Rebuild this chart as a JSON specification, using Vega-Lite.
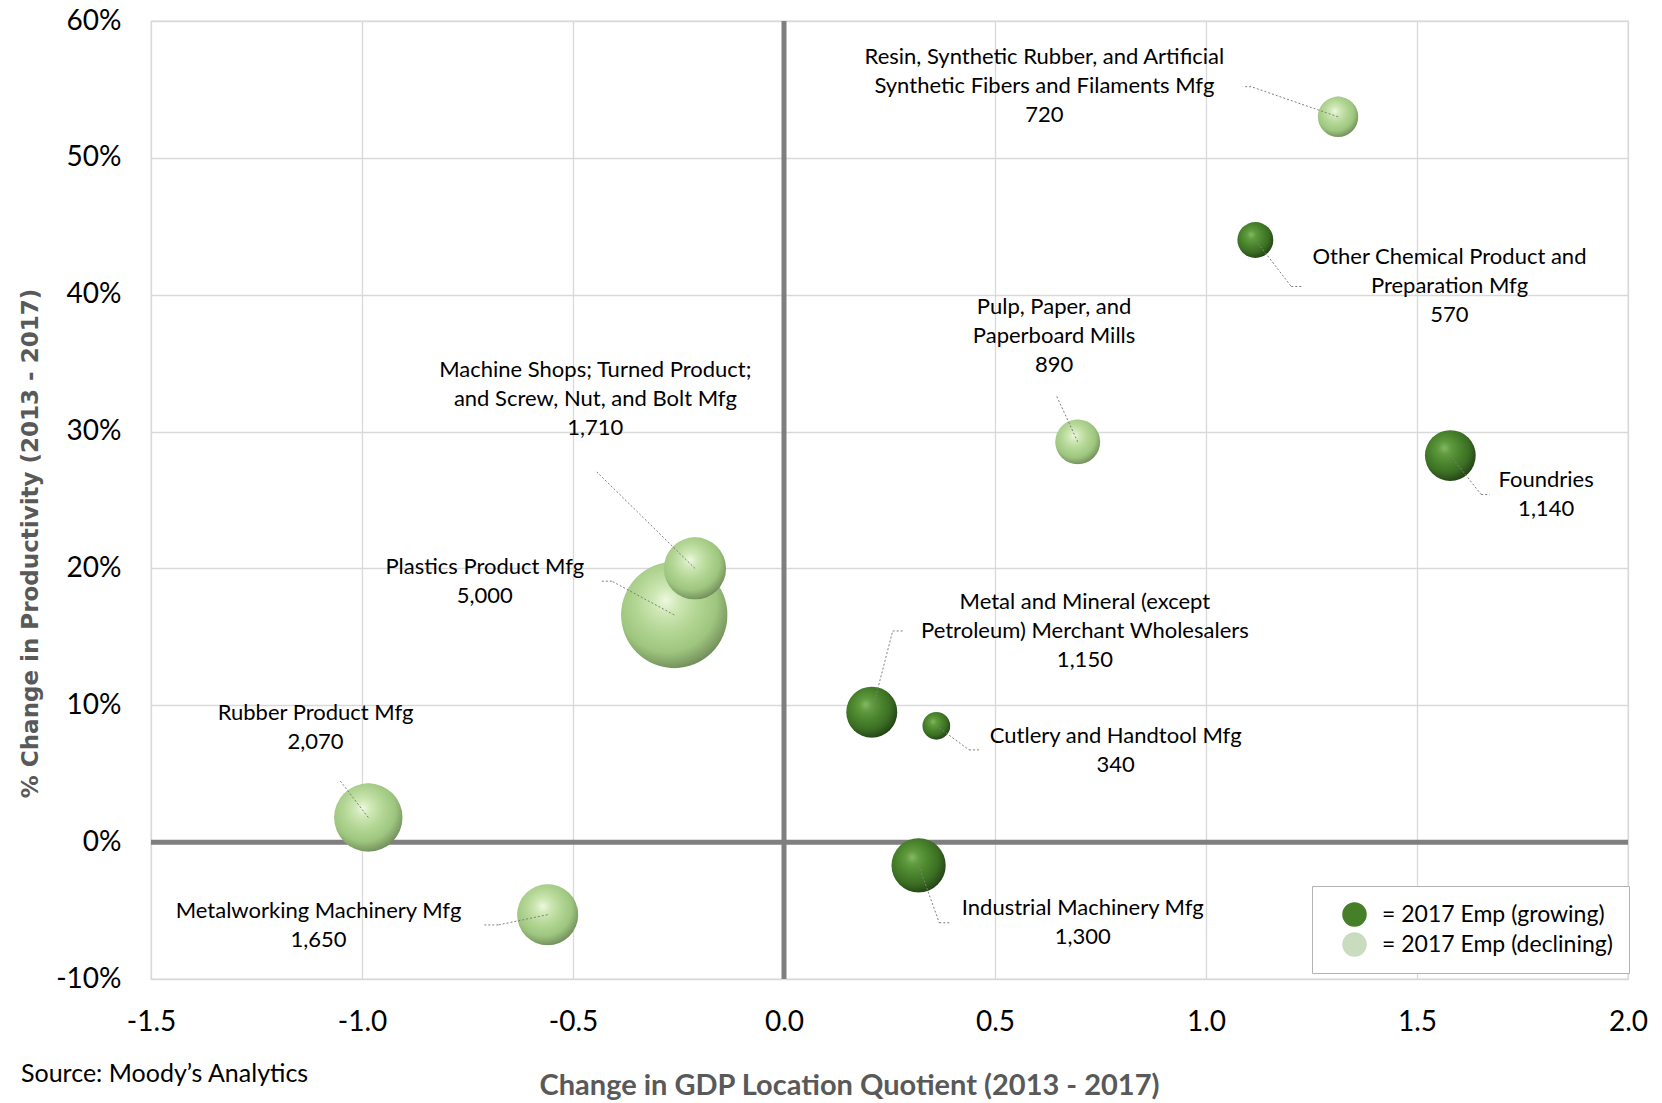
{
  "$schema": "https://vega.github.io/schema/vega-lite/v6.json",
  "width": 1477,
  "height": 958,
  "autosize": {"type": "none"},
  "padding": {"left": 151, "top": 21, "right": 34, "bottom": 124},
  "background": "#ffffff",
  "config": {
    "font": "Lato",
    "view": {"stroke": "#d9d9d9", "strokeWidth": 1.3},
    "axis": {
      "grid": true,
      "gridColor": "#d9d9d9",
      "gridWidth": 1.3,
      "domain": false,
      "ticks": false,
      "labelFlush": false,
      "labelFont": "Lato",
      "labelFontSize": 28,
      "labelColor": "#000000",
      "titleColor": "#595959"
    }
  },
  "title": {
    "text": "Source: Moody’s Analytics",
    "orient": "bottom",
    "anchor": "start",
    "frame": "group",
    "offset": -38,
    "dx": -130,
    "font": "Lato",
    "fontSize": 25,
    "fontWeight": "normal",
    "color": "#000000"
  },
  "datasets": {
    "industries": [
      {"name": "Resin, Synthetic Rubber, and Artificial\nSynthetic Fibers and Filaments Mfg", "x": 1.313, "y": 0.530, "emp": 720, "trend": "declining", "lx": 0.617, "ly": 0.581, "bx": 1.107, "by": 0.552, "ex": 1.087},
      {"name": "Other Chemical Product and\nPreparation Mfg", "x": 1.117, "y": 0.440, "emp": 570, "trend": "growing", "lx": 1.577, "ly": 0.435, "bx": 1.202, "by": 0.406, "ex": 1.227},
      {"name": "Pulp, Paper, and\nPaperboard Mills", "x": 0.696, "y": 0.2925, "emp": 890, "trend": "declining", "lx": 0.640, "ly": 0.398, "bx": 0.6445, "by": 0.327, "ex": 0.6445},
      {"name": "Foundries", "x": 1.579, "y": 0.2825, "emp": 1140, "trend": "growing", "lx": 1.806, "ly": 0.272, "bx": 1.652, "by": 0.254, "ex": 1.672},
      {"name": "Plastics Product Mfg", "x": -0.260, "y": 0.166, "emp": 5000, "trend": "declining", "lx": -0.709, "ly": 0.2085, "bx": -0.408, "by": 0.1907, "ex": -0.436},
      {"name": "Machine Shops; Turned Product;\nand Screw, Nut, and Bolt Mfg", "x": -0.211, "y": 0.200, "emp": 1710, "trend": "declining", "lx": -0.447, "ly": 0.352, "bx": -0.4435, "by": 0.2705, "ex": -0.4435},
      {"name": "Rubber Product Mfg", "x": -0.985, "y": 0.018, "emp": 2070, "trend": "declining", "lx": -1.110, "ly": 0.1015, "bx": -1.054, "by": 0.0457, "ex": -1.054},
      {"name": "Metalworking Machinery Mfg", "x": -0.560, "y": -0.053, "emp": 1650, "trend": "declining", "lx": -1.103, "ly": -0.0433, "bx": -0.677, "by": -0.0605, "ex": -0.710},
      {"name": "Metal and Mineral (except\nPetroleum) Merchant Wholesalers", "x": 0.208, "y": 0.095, "emp": 1150, "trend": "growing", "lx": 0.713, "ly": 0.183, "bx": 0.2575, "by": 0.1543, "ex": 0.2827},
      {"name": "Cutlery and Handtool Mfg", "x": 0.361, "y": 0.085, "emp": 340, "trend": "growing", "lx": 0.786, "ly": 0.0845, "bx": 0.4384, "by": 0.0674, "ex": 0.466},
      {"name": "Industrial Machinery Mfg", "x": 0.319, "y": -0.017, "emp": 1300, "trend": "growing", "lx": 0.708, "ly": -0.041, "bx": 0.368, "by": -0.0589, "ex": 0.396}
    ]
  },
  "data": {"name": "industries"},
  "layer": [
    {
      "data": {"values": [{}]},
      "mark": {"type": "rule", "color": "#7f7f7f", "strokeWidth": 5},
      "encoding": {
        "x": {"datum": 0, "type": "quantitative", "title": "Change in GDP Location Quotient (2013 - 2017)", "scale": {"domain": [-1.5, 2], "nice": false, "zero": false}}
      }
    },
    {
      "data": {"values": [{}]},
      "mark": {"type": "rule", "color": "#7f7f7f", "strokeWidth": 5},
      "encoding": {
        "y": {"datum": 0, "type": "quantitative", "title": "% Change in Productivity (2013 - 2017)", "scale": {"domain": [-0.1, 0.6], "nice": false, "zero": false}}
      }
    },
    {
      "mark": {"type": "circle", "opacity": 0},
      "encoding": {
        "x": {
          "field": "x",
          "type": "quantitative",
          "title": "Change in GDP Location Quotient (2013 - 2017)",
          "scale": {"domain": [-1.5, 2], "nice": false, "zero": false},
          "axis": {
            "values": [-1.5, -1, -0.5, 0, 0.5, 1, 1.5, 2],
            "labelExpr": "(datum.value < 0 ? '-' : '') + format(abs(datum.value), '.1f')",
            "labelPadding": 29,
            "titleFont": "Lato",
            "titleFontSize": 29,
            "titleFontWeight": "bold",
            "titleX": 698,
            "titleY": 106,
            "titleAlign": "center",
            "titleBaseline": "middle"
          }
        },
        "y": {
          "field": "y",
          "type": "quantitative",
          "title": "% Change in Productivity (2013 - 2017)",
          "scale": {"domain": [-0.1, 0.6], "nice": false, "zero": false},
          "axis": {
            "values": [-0.1, 0, 0.1, 0.2, 0.3, 0.4, 0.5, 0.6],
            "labelExpr": "(datum.value < 0 ? '-' : '') + format(abs(datum.value), '.0%')",
            "labelPadding": 30,
            "titleFont": "DejaVu Sans",
            "titleFontSize": 23,
            "titleFontWeight": "bold",
            "titleAngle": -90,
            "titleX": -121,
            "titleY": 522,
            "titleAlign": "center",
            "titleBaseline": "middle"
          }
        },
        "size": {
          "field": "emp",
          "type": "quantitative",
          "scale": {"type": "linear", "domain": [0, 5000], "range": [0, 11310]},
          "legend": null
        },
        "color": {
          "field": "trend",
          "type": "nominal",
          "scale": {"domain": ["growing", "declining"], "range": ["#457f28", "#c9dcc0"]},
          "legend": {
            "title": null,
            "orient": "none",
            "legendX": 1161,
            "legendY": 865,
            "padding": 16,
            "fillColor": "#ffffff",
            "strokeColor": "#b3b3b3",
            "symbolType": "circle",
            "symbolSize": 600,
            "symbolOffset": 14,
            "symbolOpacity": 1,
            "symbolStrokeWidth": 0,
            "labelOffset": 15,
            "labelLimit": 400,
            "labelFont": "Lato",
            "labelFontSize": 23,
            "labelColor": "#000000",
            "rowPadding": 5,
            "labelExpr": "'= 2017 Emp (' + datum.label + ')'"
          }
        }
      }
    },
    {
      "transform": [{"filter": "datum.trend === 'growing'"}],
      "mark": {
        "type": "circle",
        "opacity": 1,
        "color": {"gradient": "radial", "x1": 0.38, "y1": 0.35, "r1": 0, "x2": 0.42, "y2": 0.4, "r2": 0.66,
          "stops": [
            {"offset": 0, "color": "#86b866"},
            {"offset": 0.18, "color": "#629c40"},
            {"offset": 0.45, "color": "#4a842c"},
            {"offset": 0.7, "color": "#3b6e23"},
            {"offset": 0.88, "color": "#2a4f19"},
            {"offset": 1, "color": "#1d370f"}
          ]}
      },
      "encoding": {
        "x": {"field": "x", "type": "quantitative", "title": "Change in GDP Location Quotient (2013 - 2017)", "scale": {"domain": [-1.5, 2], "nice": false, "zero": false}},
        "y": {"field": "y", "type": "quantitative", "title": "% Change in Productivity (2013 - 2017)", "scale": {"domain": [-0.1, 0.6], "nice": false, "zero": false}},
        "size": {"field": "emp", "type": "quantitative", "scale": {"type": "linear", "domain": [0, 5000], "range": [0, 11310]}, "legend": null}
      }
    },
    {
      "transform": [{"filter": "datum.trend === 'declining'"}],
      "mark": {
        "type": "circle",
        "opacity": 1,
        "color": {"gradient": "radial", "x1": 0.42, "y1": 0.36, "r1": 0, "x2": 0.44, "y2": 0.4, "r2": 0.66,
          "stops": [
            {"offset": 0, "color": "#eef8e0"},
            {"offset": 0.18, "color": "#cfe8b6"},
            {"offset": 0.45, "color": "#b2d593"},
            {"offset": 0.7, "color": "#9ec67f"},
            {"offset": 0.88, "color": "#7d9c64"},
            {"offset": 1, "color": "#62794f"}
          ]}
      },
      "encoding": {
        "x": {"field": "x", "type": "quantitative", "title": "Change in GDP Location Quotient (2013 - 2017)", "scale": {"domain": [-1.5, 2], "nice": false, "zero": false}},
        "y": {"field": "y", "type": "quantitative", "title": "% Change in Productivity (2013 - 2017)", "scale": {"domain": [-0.1, 0.6], "nice": false, "zero": false}},
        "size": {"field": "emp", "type": "quantitative", "scale": {"type": "linear", "domain": [0, 5000], "range": [0, 11310]}, "legend": null}
      }
    },
    {
      "mark": {"type": "rule", "color": "#7f7f7f", "strokeWidth": 1, "strokeDash": [2, 2]},
      "encoding": {
        "x": {"field": "x", "type": "quantitative", "title": "Change in GDP Location Quotient (2013 - 2017)", "scale": {"domain": [-1.5, 2], "nice": false, "zero": false}},
        "y": {"field": "y", "type": "quantitative", "title": "% Change in Productivity (2013 - 2017)", "scale": {"domain": [-0.1, 0.6], "nice": false, "zero": false}},
        "x2": {"field": "bx"},
        "y2": {"field": "by"}
      }
    },
    {
      "mark": {"type": "rule", "color": "#7f7f7f", "strokeWidth": 1, "strokeDash": [2, 2]},
      "encoding": {
        "x": {"field": "bx", "type": "quantitative", "title": "Change in GDP Location Quotient (2013 - 2017)", "scale": {"domain": [-1.5, 2], "nice": false, "zero": false}},
        "y": {"field": "by", "type": "quantitative", "title": "% Change in Productivity (2013 - 2017)", "scale": {"domain": [-0.1, 0.6], "nice": false, "zero": false}},
        "x2": {"field": "ex"}
      }
    },
    {
      "transform": [{"calculate": "datum.name + '\\n' + format(datum.emp, ',')", "as": "label"}],
      "mark": {"type": "text", "align": "center", "baseline": "top", "lineBreak": "\n", "lineHeight": 29, "font": "Lato", "fontSize": 22, "color": "#000000"},
      "encoding": {
        "x": {"field": "lx", "type": "quantitative", "title": "Change in GDP Location Quotient (2013 - 2017)", "scale": {"domain": [-1.5, 2], "nice": false, "zero": false}},
        "y": {"field": "ly", "type": "quantitative", "title": "% Change in Productivity (2013 - 2017)", "scale": {"domain": [-0.1, 0.6], "nice": false, "zero": false}},
        "text": {"field": "label"}
      }
    }
  ]
}
